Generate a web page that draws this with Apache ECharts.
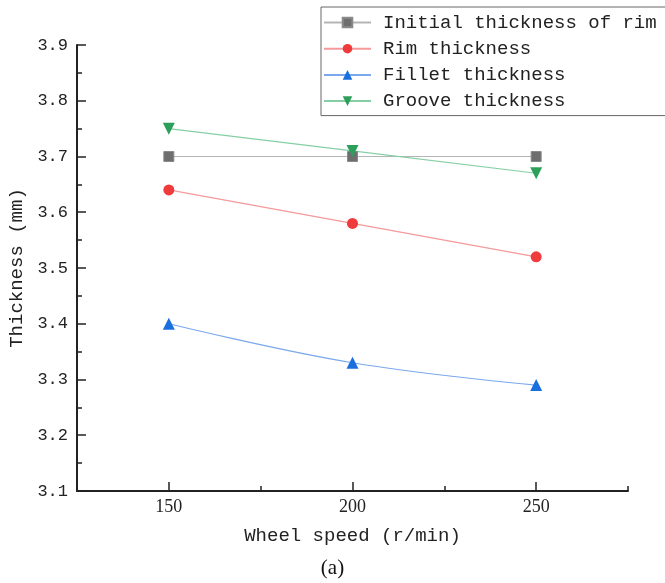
<!DOCTYPE html>
<html>
<head>
<meta charset="utf-8">
<script src="https://cdn.jsdelivr.net/npm/echarts@6/dist/echarts.min.js"></script>
<style>
  html, body { margin: 0; padding: 0; background: #fff; }
  #chart { width: 665px; height: 583px; }
</style>
</head>
<body>
<div id="chart"></div>
<script>
// 轮速 vs 厚度
var speeds = [150, 200, 250]
var initialRim = [3.70, 3.70, 3.70]
var rimThk = [3.64, 3.58, 3.52]
var filletThk = [3.40, 3.33, 3.29]
var grooveThk = [3.75, 3.71, 3.67]
var xLabels = ['150', '200', '250']

var monoFont = 'Liberation Mono'
var serifFont = 'Liberation Serif'

function pairs (ys) {
  return speeds.map(function (x, i) { return [x, ys[i]] })
}

var myChart = echarts.init(document.getElementById('chart'))
var option = {
  backgroundColor: '#fff',
  animation: false,
  grid: { left: 77, right: 37, top: 45, bottom: 92, outerBoundsMode: 'none', containLabel: false },
  legend: {
    orient: 'vertical',
    left: 321,
    top: 7,
    padding: [6, 10, 5, 2],
    itemWidth: 47,
    itemHeight: 12,
    itemGap: 7.2,
    borderColor: '#666',
    borderWidth: 1,
    backgroundColor: '#fff',
    textStyle: { fontFamily: monoFont, fontSize: 19, color: '#222', padding: [0, 0, 0, 7] }
  },
  xAxis: [
    {
      type: 'value',
      min: 125,
      max: 275,
      interval: 50,
      position: 'bottom',
      axisLine: { show: true, lineStyle: { color: '#222', width: 2 } },
      axisTick: { show: true, inside: true, length: 5, lineStyle: { color: '#222', width: 1.5 } },
      minorTick: { show: true, splitNumber: 2, length: 9, lineStyle: { color: '#222', width: 1.5 } },
      axisLabel: { show: false },
      splitLine: { show: false },
      minorSplitLine: { show: false }
    },
    {
      type: 'value',
      min: 125,
      max: 275,
      interval: 25,
      position: 'bottom',
      axisLine: { show: false },
      axisTick: { show: false },
      splitLine: { show: false },
      axisLabel: {
        margin: 7,
        fontFamily: serifFont,
        fontSize: 18,
        color: '#222',
        formatter: function (v) {
          var i = speeds.indexOf(v)
          return i >= 0 ? xLabels[i] : ''
        }
      },
      name: 'Wheel speed (r/min)',
      nameLocation: 'middle',
      nameGap: 35,
      nameTextStyle: { fontFamily: monoFont, fontSize: 19, color: '#222' }
    }
  ],
  yAxis: {
    type: 'value',
    min: 3.1,
    max: 3.9,
    interval: 0.1,
    axisLine: { show: true, lineStyle: { color: '#222', width: 2 } },
    axisTick: { show: true, inside: true, length: 9, lineStyle: { color: '#222', width: 1.5 } },
    minorTick: { show: true, splitNumber: 2, length: 5, lineStyle: { color: '#222', width: 1.5 } },
    splitLine: { show: false },
    minorSplitLine: { show: false },
    axisLabel: {
      margin: 9,
      fontFamily: monoFont,
      fontSize: 17,
      color: '#222',
      formatter: function (v) { return v.toFixed(1) }
    },
    name: 'Thickness (mm)',
    nameLocation: 'middle',
    nameGap: 41,
    nameTextStyle: { fontFamily: monoFont, fontSize: 19, color: '#222' }
  },
  series: [
    {
      name: 'Initial thickness of rim',
      type: 'line',
      xAxisIndex: 0,
      data: pairs(initialRim),
      symbol: 'rect',
      symbolSize: 10,
      itemStyle: { color: '#6e6e6e', borderColor: '#8a8a8a', borderWidth: 1 },
      lineStyle: { color: '#b5b5b5', width: 1.2 }
    },
    {
      name: 'Rim thickness',
      type: 'line',
      xAxisIndex: 0,
      data: pairs(rimThk),
      symbol: 'circle',
      symbolSize: 11,
      itemStyle: { color: '#ef3b3b' },
      lineStyle: { color: '#f49a9a', width: 1.2 }
    },
    {
      name: 'Fillet thickness',
      type: 'line',
      xAxisIndex: 0,
      data: pairs(filletThk),
      smooth: 0.4,
      symbol: 'triangle',
      symbolSize: 12,
      itemStyle: { color: '#1a6fdf' },
      lineStyle: { color: '#7aa8ec', width: 1.2 }
    },
    {
      name: 'Groove thickness',
      type: 'line',
      xAxisIndex: 0,
      data: pairs(grooveThk),
      symbol: 'triangle',
      symbolRotate: 180,
      symbolSize: 12,
      itemStyle: { color: '#2ca05a' },
      lineStyle: { color: '#85cfa5', width: 1.2 }
    }
  ],
  graphic: [
    {
      type: 'text',
      left: 'center',
      top: 558,
      style: { text: '(a)', font: '21px "Liberation Serif"', fill: '#111' }
    }
  ]
}
option && myChart.setOption(option)
window.addEventListener('resize', () => { myChart.resize() })
</script>
</body>
</html>
